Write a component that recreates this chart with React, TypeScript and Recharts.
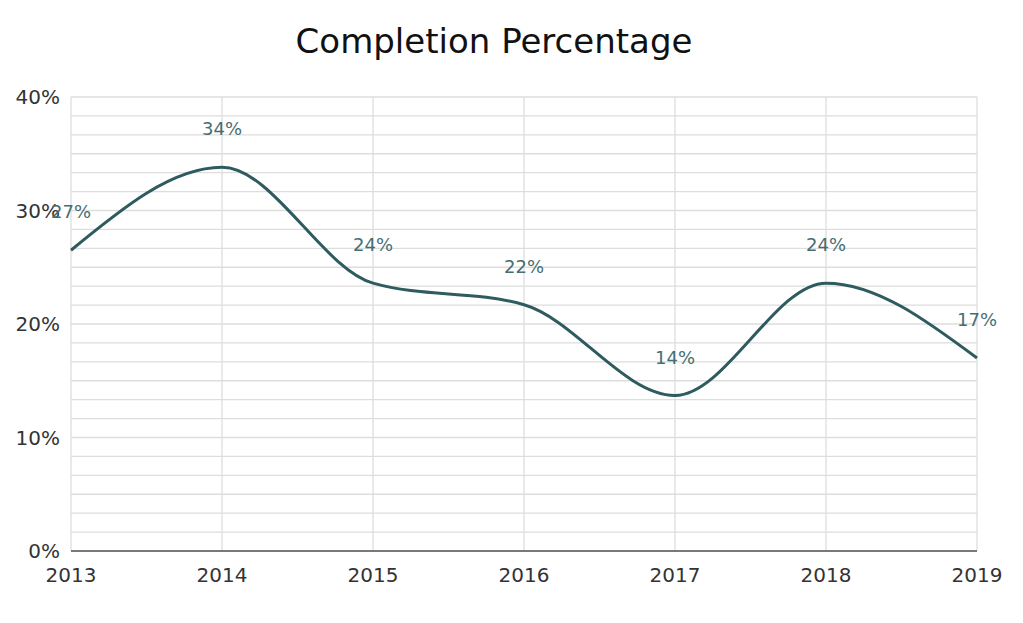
import React from 'react';
import { LineChart, Line, XAxis, YAxis, CartesianGrid, LabelList } from 'recharts';

const years = ['2013', '2014', '2015', '2016', '2017', '2018', '2019'];
const completion = [26.5, 33.8, 23.6, 21.7, 13.7, 23.6, 17.0];
const labels = ['27%', '34%', '24%', '22%', '14%', '24%', '17%'];
// six minor gridlines per 10% step
const yTicks = [
  0, 10 / 6, 20 / 6, 5, 40 / 6, 50 / 6,
  10, 70 / 6, 80 / 6, 15, 100 / 6, 110 / 6,
  20, 130 / 6, 140 / 6, 25, 160 / 6, 170 / 6,
  30, 190 / 6, 200 / 6, 35, 220 / 6, 230 / 6,
  40,
];

const data = years.map((y, i) => ({ year: y, value: completion[i], label: labels[i] }));

const font = '"DejaVu Sans", Verdana, sans-serif';

const yFormat = (v: number) => (Math.abs(v - Math.round(v / 10) * 10) < 1e-6 ? `${Math.round(v)}%` : '');

export default function App() {
  return (
    <div style={{ position: 'absolute', left: 0, top: 0, width: 1023, height: 623, background: '#fff' }}>
      <div
        style={{
          position: 'absolute',
          left: 0,
          width: 988,
          top: 21,
          textAlign: 'center',
          fontFamily: font,
          fontSize: 34,
          color: '#111',
        }}
      >
        Completion Percentage
      </div>
      <LineChart width={1023} height={623} data={data} margin={{ top: 97, right: 46, bottom: 42, left: 11 }}>
        <CartesianGrid stroke="#dddddd" strokeWidth={1.3} />
        <XAxis
          dataKey="year"
          tickLine={false}
          tickSize={0}
          tickMargin={17}
          height={30}
          stroke="#555"
          strokeWidth={1.5}
          tick={{ fill: '#333', fontSize: 20, fontFamily: font }}
        />
        <YAxis
          domain={[0, 40]}
          ticks={yTicks}
          interval={0}
          tickFormatter={yFormat}
          axisLine={false}
          tickLine={false}
          tickSize={0}
          tickMargin={11}
          width={60}
          tick={{ fill: '#333', fontSize: 20, fontFamily: font }}
        />
        <Line
          type="monotone"
          dataKey="value"
          stroke="#2e5b5f"
          strokeWidth={3}
          dot={false}
          activeDot={false}
          isAnimationActive={false}
        >
          <LabelList dataKey="label" position="top" offset={32} fill="#456e72" fontSize={18} fontFamily={font} />
        </Line>
      </LineChart>
    </div>
  );
}
